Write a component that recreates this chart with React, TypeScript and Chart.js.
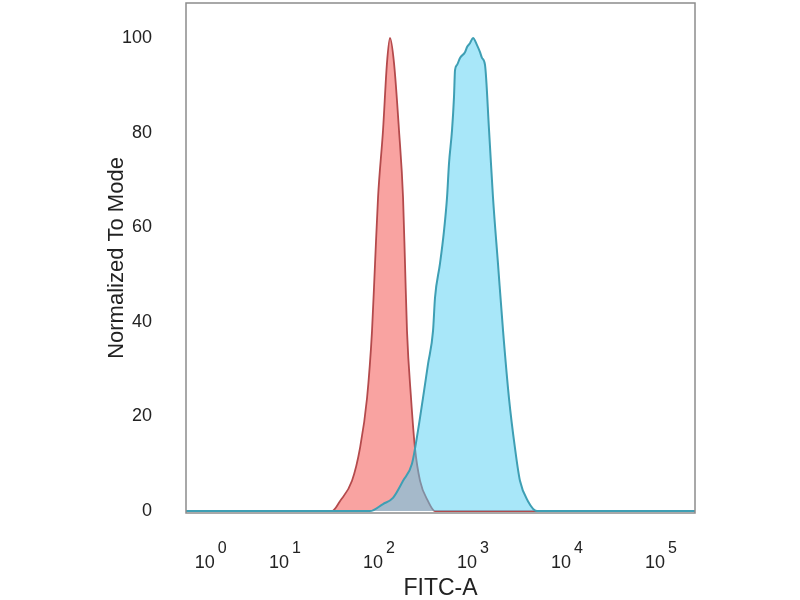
import { useEffect, useRef } from "react"
import { Chart, registerables } from "chart.js"

Chart.register(...registerables)

// FITC-A axis in display decades (biexponential: 10^0 is squeezed)
const fitcTickPos = [0.21, 1, 2, 3, 4, 5]
const fitcTickExp = ["0", "1", "2", "3", "4", "5"]
const modeTicks = [0, 20, 40, 60, 80, 100]

// isotype control (red)
const isoX = [-0.064, 1.489, 1.574, 1.702, 1.787, 1.862, 1.915, 1.947, 1.979, 2.032, 2.074, 2.106, 2.149, 2.202, 2.245, 2.266, 2.287, 2.33, 2.372, 2.426, 2.511, 2.585, 5.351]
const isoY = [0, 0, 2.1, 6.4, 13.3, 23.9, 38.1, 52.3, 66.3, 80.5, 94.7, 100, 94.7, 80.5, 66.3, 52.3, 38.1, 23.9, 13.3, 6.4, 2.1, 0, 0]

// antibody stained (blue)
const abX = [-0.064, 1.894, 2.032, 2.138, 2.245, 2.34, 2.404, 2.457, 2.511, 2.564, 2.585, 2.638, 2.681, 2.713, 2.734, 2.766, 2.787, 2.798, 2.819, 2.851, 2.904, 2.926, 2.957, 2.989, 3.032, 3.064, 3.085, 3.117, 3.16, 3.202, 3.255, 3.309, 3.372, 3.436, 3.489, 3.574, 3.67, 5.351]
const abY = [0, 0, 1.5, 2.8, 6.4, 10, 17, 23.9, 31.1, 38.1, 45.1, 52.3, 59.3, 66.3, 73.5, 80.5, 87.5, 93.2, 94.3, 95.8, 97, 98.1, 98.9, 100, 98.5, 97, 95.8, 94.3, 80.5, 66.3, 52.3, 38.1, 23.9, 13.3, 6.4, 2.1, 0, 0]

const FONT = "'Liberation Sans', Arial, sans-serif"

const zip = (xs: number[], ys: number[]) => xs.map((x, i) => ({ x, y: ys[i] }))

// frame + superscript decade labels
const flowPlugin = {
  id: "flowDecor",
  afterDraw(chart: any) {
    const { ctx, chartArea, scales } = chart
    ctx.save()
    ctx.strokeStyle = "#8c8c8c"
    ctx.lineWidth = 1.5
    ctx.strokeRect(chartArea.left, chartArea.top, chartArea.right - chartArea.left, chartArea.bottom - chartArea.top)

    ctx.fillStyle = "#222"
    ctx.textBaseline = "alphabetic"
    fitcTickPos.forEach((pos, i) => {
      const px = scales.x.getPixelForValue(pos)
      ctx.font = `18px ${FONT}`
      ctx.textAlign = "right"
      ctx.fillText("10", px + 3, 568)
      ctx.font = `16px ${FONT}`
      ctx.textAlign = "left"
      ctx.fillText(fitcTickExp[i], px + 6, 553)
    })
    ctx.restore()
  },
}

export default function App() {
  const canvasRef = useRef<HTMLCanvasElement>(null)
  const chartRef = useRef<Chart | null>(null)

  useEffect(() => {
    if (!canvasRef.current) return
    if (chartRef.current) chartRef.current.destroy()

    chartRef.current = new Chart(canvasRef.current, {
      type: "line",
      data: {
        datasets: [
          {
            label: "Isotype",
            data: zip(isoX, isoY),
            borderColor: "#b44a4c",
            backgroundColor: "#f9a3a1",
            borderWidth: 1.8,
            fill: "origin",
            pointRadius: 0,
            cubicInterpolationMode: "monotone",
            order: 2,
          },
          {
            label: "Antibody",
            data: zip(abX, abY),
            borderColor: "#3e9fb4",
            backgroundColor: "rgba(81, 207, 243, 0.5)",
            borderWidth: 2,
            fill: "origin",
            pointRadius: 0,
            cubicInterpolationMode: "monotone",
            order: 1,
          },
        ],
      },
      options: {
        responsive: true,
        maintainAspectRatio: false,
        animation: false,
        layout: { padding: { left: 104, top: 3, right: 105, bottom: 0 } },
        plugins: {
          legend: { display: false },
          tooltip: { enabled: false },
        },
        scales: {
          x: {
            type: "linear",
            min: -0.064,
            max: 5.351,
            grid: { display: false },
            border: { display: false },
            ticks: { display: false },
            title: {
              display: true,
              text: "FITC-A",
              color: "#222",
              font: { family: FONT, size: 23, lineHeight: 1 },
              padding: 0,
            },
            afterFit: (scale: any) => {
              scale.height = 87
              scale.paddingLeft = 0
              scale.paddingRight = 0
            },
          },
          y: {
            min: -0.4,
            max: 107.4,
            grid: { display: false },
            border: { display: false },
            ticks: {
              color: "#222",
              padding: 26,
              font: { family: FONT, size: 18 },
            },
            afterBuildTicks: (scale: any) => {
              scale.ticks = modeTicks.map((value) => ({ value }))
            },
            title: {
              display: true,
              text: "Normalized To Mode",
              color: "#222",
              font: { family: FONT, size: 22 },
              padding: 0,
            },
            afterFit: (scale: any) => {
              scale.width = 82
              scale.paddingTop = 0
              scale.paddingBottom = 0
            },
          },
        },
      },
      plugins: [flowPlugin],
    })

    return () => {
      if (chartRef.current) {
        chartRef.current.destroy()
        chartRef.current = null
      }
    }
  }, [])

  return (
    <div style={{ position: "fixed", left: 0, top: 0, width: 800, height: 600, background: "#fff" }}>
      <canvas ref={canvasRef} />
    </div>
  )
}
